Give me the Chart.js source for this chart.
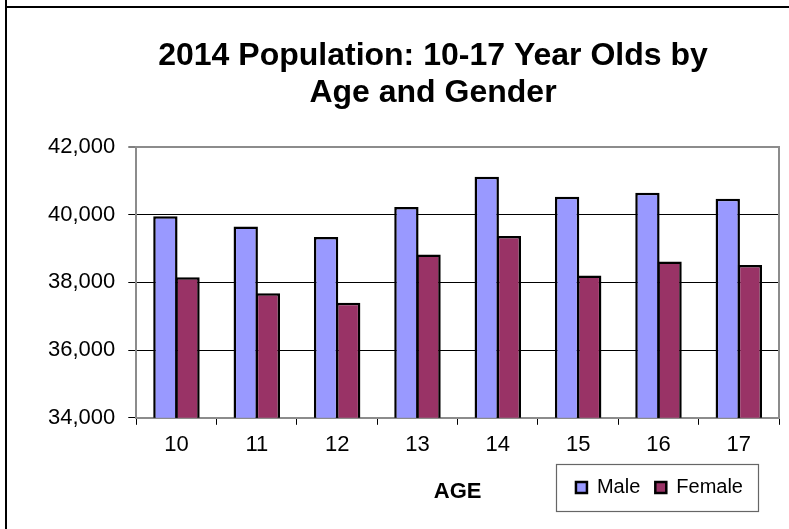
<!DOCTYPE html>
<html>
<head>
<meta charset="utf-8">
<script src="https://cdn.jsdelivr.net/npm/chart.js@4/dist/chart.umd.min.js"></script>
<style>
  html, body { margin: 0; padding: 0; background: #fff; }
  #wrap { width: 789px; height: 529px; position: relative; }
</style>
</head>
<body>
<div id="wrap"><canvas id="c"></canvas></div>
<script>
const titleLines = ['2014 Population: 10-17 Year Olds by', 'Age and Gender'];
const ages = ['10', '11', '12', '13', '14', '15', '16', '17'];
const maleValues = [39950, 39650, 39340, 40230, 41120, 40530, 40650, 40470];
const femaleValues = [38150, 37680, 37400, 38820, 39370, 38200, 38620, 38510];
const seriesNames = ['Male', 'Female'];
const yMin = 34000, yMax = 42000, yStep = 2000;
const xAxisTitle = 'AGE';

const FONT = "'Liberation Sans', Arial, Helvetica, sans-serif";
Chart.defaults.color = '#000';
Chart.defaults.font.family = FONT;

const framePlugin = {
  id: 'frame',
  afterLayout(chart) {
    const tb = chart.titleBlock;
    if (tb) {
      const cx = 433, half = 350;
      tb.left = cx - half; tb.right = cx + half; tb.width = 2 * half;
    }
    const lg = chart.legend;
    if (!lg) return;
    const pad = lg.options.labels.padding;
    const right = 743 + pad;
    lg.lineWidths[0] += 0.01;
    lg.left = 300; lg.right = right; lg.width = right - 300;
    lg.top = 477.5 - pad; lg.bottom = lg.top + 60; lg.height = 60;
  },
  beforeDatasetsDraw(chart) {
    const {ctx, chartArea: a} = chart;
    ctx.save();
    ctx.strokeStyle = '#8c8c8c';
    ctx.lineWidth = 2;
    ctx.beginPath();
    ctx.moveTo(a.right, a.top - 1);
    ctx.lineTo(a.right, a.bottom);
    ctx.stroke();
    ctx.restore();
  },
  afterDraw(chart) {
    const {ctx} = chart;
    ctx.save();
    const lg = chart.legend;
    if (lg && lg.legendHitBoxes && lg.legendHitBoxes.length) {
      const hb = lg.legendHitBoxes;
      const first = hb[0], last = hb[hb.length - 1];
      const l = first.left - 20;
      const r = last.left + last.width + 15;
      const cy = first.top + first.height / 2;
      ctx.strokeStyle = '#666';
      ctx.lineWidth = 1.2;
      ctx.strokeRect(Math.round(l) + 0.5, Math.round(cy - 23.5) + 0.5, Math.round(r - l), 47);
    }
    ctx.strokeStyle = '#000';
    ctx.lineWidth = 2;
    ctx.beginPath();
    ctx.moveTo(6, 0); ctx.lineTo(6, 529);
    ctx.moveTo(5, 7); ctx.lineTo(789, 7);
    ctx.stroke();
    ctx.restore();
  }
};

new Chart(document.getElementById('c'), {
  type: 'bar',
  data: {
    labels: ages,
    datasets: [
      { label: seriesNames[0], data: maleValues, backgroundColor: '#9999FF', borderColor: '#000', borderWidth: 2.5, borderSkipped: false },
      { label: seriesNames[1], data: femaleValues, backgroundColor: '#993366', borderColor: '#000', borderWidth: 2.5, borderSkipped: false }
    ]
  },
  options: {
    responsive: true,
    maintainAspectRatio: false,
    animation: false,
    locale: 'en-US',
    layout: { padding: { left: 35, right: 10, top: 0, bottom: 23 } },
    datasets: { bar: { categoryPercentage: 0.551, barPercentage: 1.1 } },
    scales: {
      x: {
        offset: true,
        grid: { display: true, drawOnChartArea: false, drawTicks: true, tickLength: 7, tickColor: '#000', tickWidth: 1 },
        border: { display: true, color: '#8c8c8c', width: 2 },
        ticks: { font: { size: 22, family: FONT }, color: '#000', padding: 7, maxRotation: 0 },
        title: { display: true, text: xAxisTitle, font: { size: 22, weight: 'bold', family: FONT }, color: '#000', padding: { top: 13.4, bottom: 0 } }
      },
      y: {
        min: yMin, max: yMax,
        grid: {
          drawTicks: true, tickLength: 8,
          color: (c) => (c.tick && c.tick.value === yMax) ? '#8c8c8c' : '#000',
          lineWidth: (c) => (c.tick && c.tick.value === yMax) ? 2 : 1,
          tickColor: '#000', tickWidth: 1
        },
        border: { display: true, color: '#8c8c8c', width: 2 },
        ticks: { stepSize: yStep, font: { size: 22, family: FONT }, color: '#000', padding: 13 }
      }
    },
    plugins: {
      title: {
        display: true,
        text: titleLines,
        color: '#000',
        font: { size: 32, weight: 'bold', family: FONT, lineHeight: 1.14 },
        padding: { top: 38, bottom: 36 }
      },
      legend: {
        display: true,
        position: 'bottom',
        align: 'end',
        maxHeight: 1,
        labels: { boxWidth: 11, boxHeight: 11, padding: 15, color: '#000', font: { size: 20, family: FONT } }
      },
      tooltip: { enabled: false }
    }
  },
  plugins: [framePlugin]
});
</script>
</body>
</html>
